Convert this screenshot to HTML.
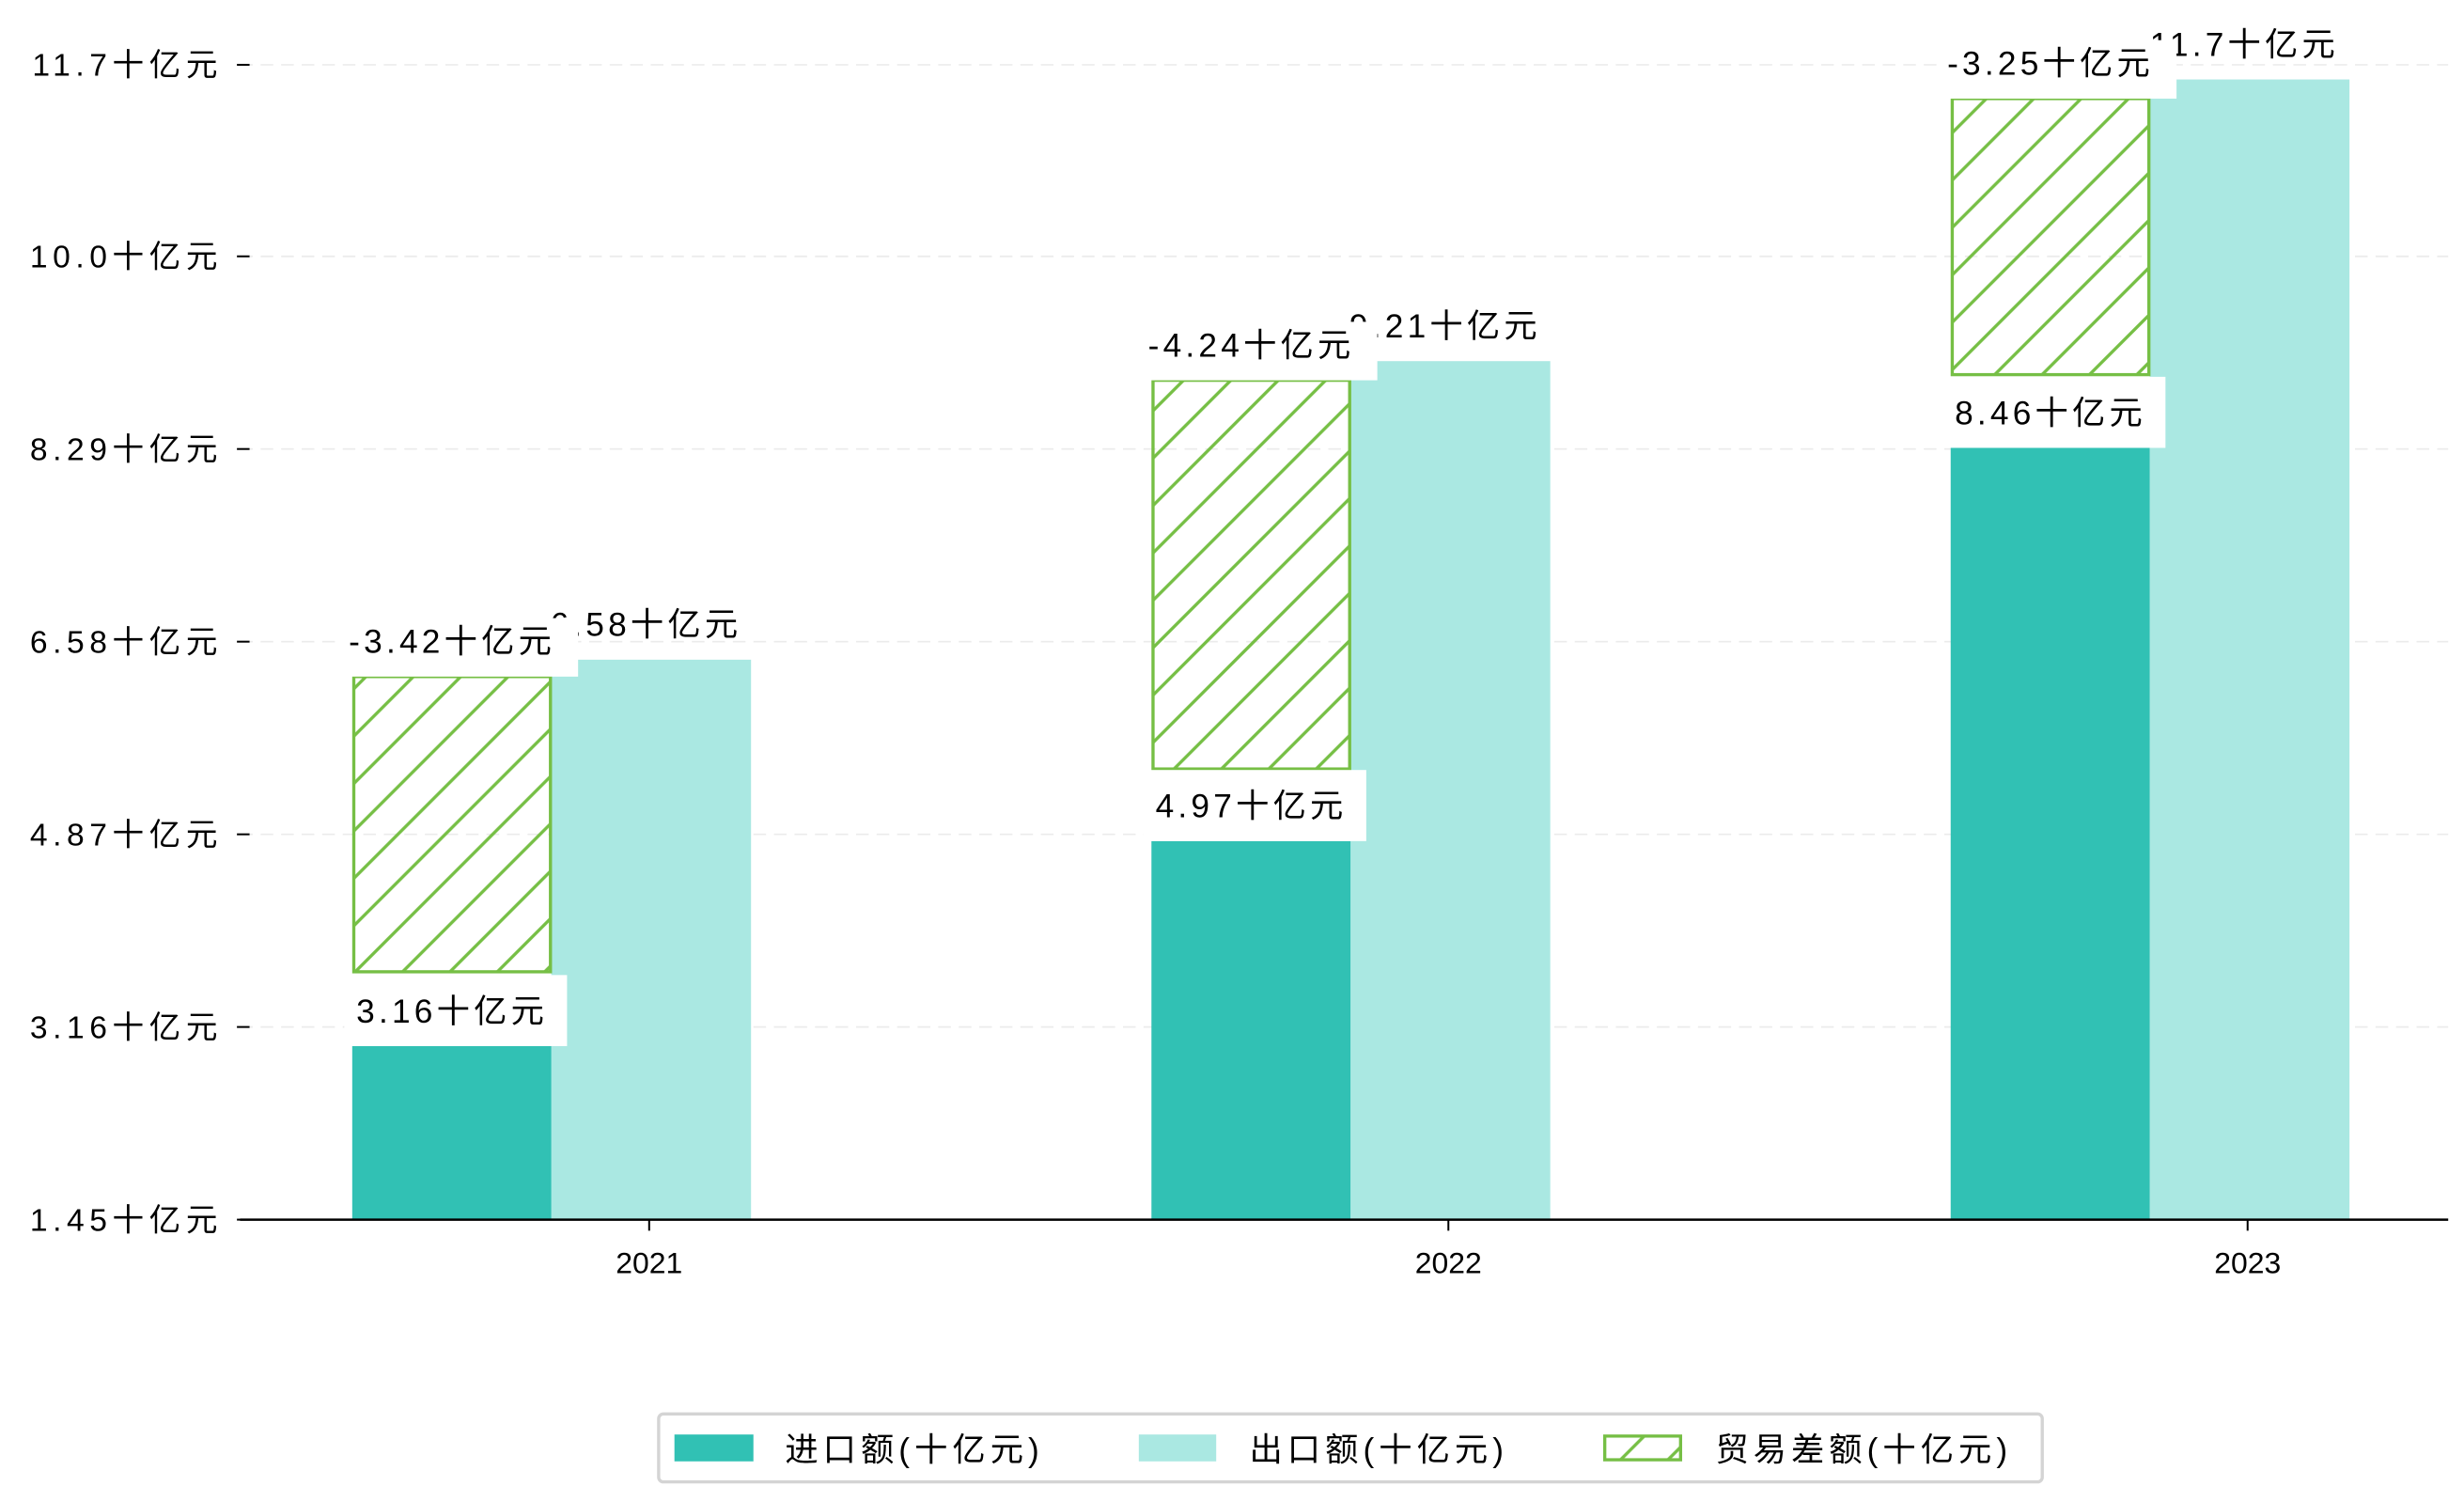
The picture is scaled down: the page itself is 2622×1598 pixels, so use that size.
<!DOCTYPE html>
<html><head><meta charset="utf-8"><style>
html,body{margin:0;padding:0;background:#fff}
svg{display:block}
text{font-family:"Liberation Sans","Noto Sans CJK SC",sans-serif;fill:#000}
</style></head><body>
<svg id="chart" width="2622" height="1598" viewBox="0 0 1560 950.7" xmlns="http://www.w3.org/2000/svg">
<defs>
<pattern id="hatch" patternUnits="userSpaceOnUse" width="30" height="30">
<path d="M-5,35 L35,-5 M-5,5 L5,-5 M25,35 L35,25" stroke="#76bf45" stroke-width="2"/>
</pattern>
</defs>
<g id="grid"></g>
<g id="bars"></g>
<g id="labels"></g>
<g id="axes"></g>
<g>
<rect x="417" y="895" width="876" height="43" rx="3" fill="#fff" stroke="#d4d4d4" stroke-width="2"/>
<rect x="427" y="908" width="50" height="17" fill="#31c1b4"/>
<text x="497" y="925" font-size="21" letter-spacing="3">进口额(十亿元)</text>
<rect x="721" y="908" width="49" height="17" fill="#aae8e2"/>
<text x="791" y="925" font-size="21" letter-spacing="3">出口额(十亿元)</text>
<rect x="1016" y="909" width="48" height="15" fill="url(#hatch)" stroke="#76bf45" stroke-width="2"/>
<text x="1086" y="925" font-size="21" letter-spacing="3">贸易差额(十亿元)</text>
</g>
</svg>
<script>
const categories = ["2021","2022","2023"];
const importVals = [2.99, 4.81, 8.30];
const exportVals = [6.42, 9.07, 11.57];
const balanceLo = [3.65, 5.45, 8.95];
const balanceHi = [6.27, 8.90, 11.40];
const importLabels = ["3.16十亿元","4.97十亿元","8.46十亿元"];
const exportLabels = ["6.58十亿元","9.21十亿元","11.7十亿元"];
const balanceLabels = ["-3.42十亿元","-4.24十亿元","-3.25十亿元"];
const tickVals = [1.45, 3.16, 4.87, 6.58, 8.29, 10.0, 11.7];
const tickLabels = ["1.45十亿元","3.16十亿元","4.87十亿元","6.58十亿元","8.29十亿元","10.0十亿元","11.7十亿元"];

const NS="http://www.w3.org/2000/svg";
const y0=772, y1=41, vmin=1.45, vmax=11.7;
function y(v){return y0-(v-vmin)/(vmax-vmin)*(y0-y1);}
const xc0=411, xstep=506, bw=126.5;
function xc(i){return xc0+i*xstep;}
function mk(tag,attrs,parent,txt){const e=document.createElementNS(NS,tag);for(const k in attrs)e.setAttribute(k,attrs[k]);if(txt!==undefined)e.textContent=txt;document.getElementById(parent).appendChild(e);return e;}

tickVals.forEach((v,i)=>{
  if(i>0){const g=mk('line',{x1:152,x2:1550,y1:y(v),y2:y(v),stroke:'#ebebeb','stroke-dasharray':'8,5','stroke-width':1},'grid');
  
  }
  const t=mk('line',{x1:150,x2:158,y1:y(v),y2:y(v),stroke:'#000','stroke-width':1.2},'axes');
  
  
  const l=mk('text',{x:141,y:y(v)+7,'text-anchor':'end','font-size':20,'letter-spacing':3.3},'axes',tickLabels[i]);
  
  
});
const ax=mk('line',{x1:152,x2:1550,y1:y0,y2:y0,stroke:'#000','stroke-width':1.5},'axes');



categories.forEach((c,i)=>{
  const cx=xc(i);
  const ix=cx-188, ex=cx-62;
  const b1=mk('rect',{x:ix,y:y(importVals[i]),width:bw,height:y0-y(importVals[i]),fill:'#31c1b4'},'bars');
  
  
  const b2=mk('rect',{x:ex,y:y(exportVals[i]),width:bw,height:y0-y(exportVals[i]),fill:'#aae8e2'},'bars');
  
  
  const b3=mk('rect',{x:ix+1,y:y(balanceHi[i]),width:bw-2,height:y(balanceLo[i])-y(balanceHi[i]),fill:'url(#hatch)',stroke:'#76bf45','stroke-width':2},'bars');
  
  
  const tk=mk('line',{x1:cx,x2:cx,y1:y0,y2:y0+7,stroke:'#000','stroke-width':1.2},'axes');
  
  
  const xl=mk('text',{x:cx,y:y0+34,'text-anchor':'middle','font-size':19},'axes',c);
  
  

  // export label
  const ey=y(exportVals[i])-22;
  const el=mk('text',{x:cx-2,y:ey+7,'text-anchor':'middle','font-size':21,'letter-spacing':2.5},'labels',exportLabels[i]);
  
  
  // balance label
  const byy=y(balanceHi[i])-22;
  mk('rect',{x:ix-7,y:byy-15,width:150,height:37,fill:'#fff'},'labels');
  const bl=mk('text',{x:ix+bw/2,y:byy+7,'text-anchor':'middle','font-size':21,'letter-spacing':2.5},'labels',balanceLabels[i]);
  
  
  // import label
  const iy=y(importVals[i])-22;
  mk('rect',{x:ix-5,y:iy-23,width:141,height:45,fill:'#fff'},'labels');
  const il=mk('text',{x:ix+bw/2,y:iy+7,'text-anchor':'middle','font-size':21,'letter-spacing':2.5},'labels',importLabels[i]);
  
  
});
</script>
</body></html>
